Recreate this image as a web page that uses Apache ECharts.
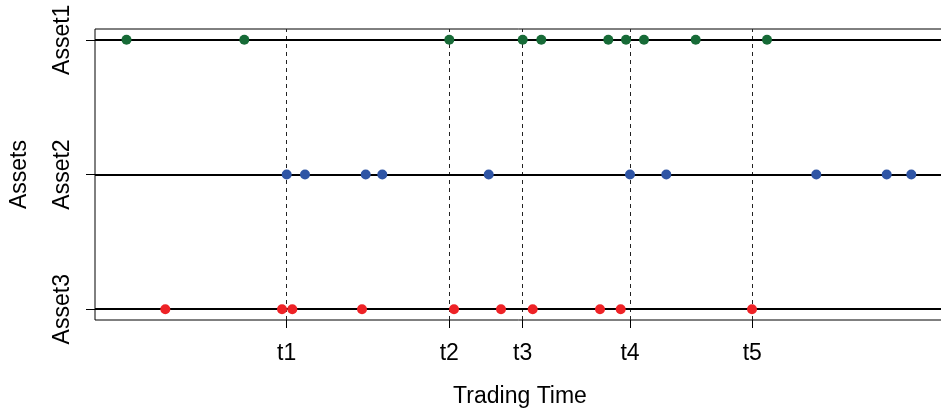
<!DOCTYPE html>
<html>
<head>
<meta charset="utf-8">
<script src="https://cdn.jsdelivr.net/npm/echarts@6/dist/echarts.min.js"></script>
<style>
  html, body { margin: 0; padding: 0; background: #fff; }
  #chart { width: 941px; height: 409px; }
</style>
</head>
<body>
<div id="chart"></div>
<script>
var myChart = echarts.init(document.getElementById("chart"));

// trading times (arbitrary units) for each asset
var assetNames = ["Asset1", "Asset2", "Asset3"];
var assetLevels = [3, 2, 1];
var asset1Times = [31.5, 149.3, 354.3, 427.7, 446.3, 513.3, 531, 549, 600.7, 672];
var asset2Times = [191.7, 210, 270.7, 287.3, 393.7, 535, 571.3, 721.3, 791.7, 816.3];
var asset3Times = [70.3, 187, 197.3, 267, 359, 406, 437.7, 505, 525.7, 657];
var tickTimes = [191.7, 354.3, 427.7, 535, 657.3];
var tickLabels = ["t1", "t2", "t3", "t4", "t5"];
var colors = ["#176b37", "#2f55a5", "#ee2226"];

var FONT = "Liberation Sans, Arial, sans-serif";

function toPoints(times, level) {
    return times.map(function (t) { return [t, level]; });
}

var allTimes = [asset1Times, asset2Times, asset3Times];
var scatterSeries = allTimes.map(function (times, i) {
    return {
        name: assetNames[i],
        type: "scatter",
        symbol: "circle",
        symbolSize: 10,
        itemStyle: { color: colors[i], opacity: 1 },
        data: toPoints(times, assetLevels[i]),
        z: 5
    };
});

var option = {
    animation: false,
    backgroundColor: "#fff",
    grid: {
        left: 95,
        top: 29,
        width: 850,
        height: 291,
        outerBoundsMode: "none",
        containLabel: false,
        show: true,
        borderColor: "#000",
        borderWidth: 1,
        backgroundColor: "transparent"
    },
    xAxis: {
        type: "value",
        min: 0,
        max: 850,
        name: "Trading Time",
        nameLocation: "middle",
        nameGap: 65,
        nameTextStyle: { fontFamily: FONT, fontSize: 23, color: "#000" },
        axisLine: { show: false },
        splitLine: { show: false },
        axisTick: {
            show: true,
            length: 8,
            customValues: tickTimes,
            lineStyle: { color: "#000", width: 1 }
        },
        axisLabel: {
            customValues: tickTimes,
            margin: 22,
            fontFamily: FONT,
            fontSize: 23,
            color: "#000",
            formatter: function (v) {
                var idx = tickTimes.indexOf(v);
                return idx >= 0 ? tickLabels[idx] : "";
            }
        }
    },
    yAxis: {
        type: "value",
        min: 0.92,
        max: 3.08,
        name: "Assets",
        nameLocation: "middle",
        nameGap: 64,
        nameRotate: 90,
        nameTextStyle: { fontFamily: FONT, fontSize: 23, color: "#000" },
        axisLine: { show: false },
        splitLine: { show: false },
        axisTick: {
            show: true,
            length: 9,
            customValues: assetLevels,
            lineStyle: { color: "#000", width: 1 }
        },
        axisLabel: {
            customValues: assetLevels,
            rotate: 90,
            margin: 21,
            fontFamily: FONT,
            fontSize: 23,
            color: "#000",
            formatter: function (v) {
                var idx = assetLevels.indexOf(v);
                return idx >= 0 ? assetNames[idx] : "";
            }
        }
    },
    series: [
        {
            type: "line",
            data: [],
            z: 1,
            silent: true,
            markLine: {
                silent: true,
                symbol: ["none", "none"],
                label: { show: false },
                animation: false,
                data: tickTimes.map(function (t) {
                    return {
                        xAxis: t,
                        lineStyle: { type: [4, 4], color: "#222", width: 1 }
                    };
                }).concat(assetLevels.map(function (l) {
                    return {
                        yAxis: l,
                        lineStyle: { type: "solid", color: "#000", width: 2 }
                    };
                }))
            }
        }
    ].concat(scatterSeries)
};

myChart.setOption(option);
window.addEventListener("resize", function () {
    myChart.resize();
});
</script>
</body>
</html>
